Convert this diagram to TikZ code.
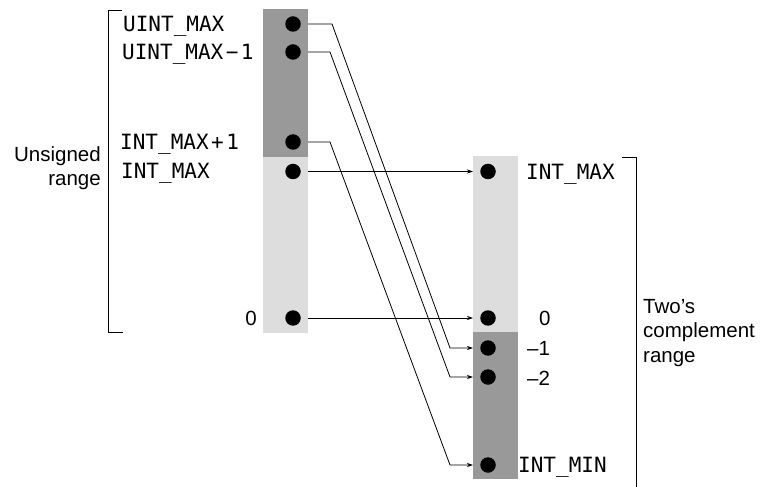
\documentclass[tikz,border=0pt]{standalone}
\usepackage{fontspec}
\setmainfont{Liberation Sans}
\newfontfamily\monof{DejaVu Sans Mono}
\usetikzlibrary{arrows.meta,calc}
\definecolor{darkbar}{HTML}{999999}
\definecolor{lightbar}{HTML}{DDDDDD}
\tikzset{
  dot/.style={circle,fill=black,inner sep=0pt,minimum size=15.5bp},
  conn/.style={line width=0.8bp,-{Stealth[length=6bp,width=4bp]}},
  bracket/.style={line width=0.9bp},
  mlabel/.style={font=\monof\fontsize{21bp}{24bp}\selectfont,inner sep=0pt,anchor=base west},
  slabel/.style={font=\fontsize{20.5bp}{24.5bp}\selectfont,inner sep=0pt},
}
\begin{document}
\begin{tikzpicture}[x=1bp,y=-1bp]
\useasboundingbox (0,0) rectangle (765,487);
% bars
\fill[darkbar] (263,9) rectangle (308,157);
\fill[lightbar] (263,157) rectangle (308,333);
\fill[lightbar] (473,156) rectangle (518,332);
\fill[darkbar] (473,332) rectangle (518,479);
\coordinate (lbarE) at (308,0);
\coordinate (rbarW) at (473,0);
% left dots
\node[dot] (u1) at (293,24) {};
\node[dot] (u2) at (293,52) {};
\node[dot] (u3) at (293,142) {};
\node[dot] (u4) at (293,171.5) {};
\node[dot] (u5) at (293,318) {};
% right dots
\node[dot] (s1) at (488,171.5) {};
\node[dot] (s2) at (488,318) {};
\node[dot] (s3) at (488,348) {};
\node[dot] (s4) at (488,377) {};
\node[dot] (s5) at (488,465) {};
% left labels
\node[mlabel] (lu1) at (123,31.5) {UINT\_MAX};
\node[mlabel] (lu2) at (122,59.5) {UINT\_MAX\kern2.5bp−\kern2.5bp1};
\node[mlabel] (lu3) at (120,149.5) {INT\_MAX\kern2.5bp+\kern2.5bp1};
\node[mlabel] (lu4) at (121,178.5) {INT\_MAX};
\node[slabel,anchor=base east] (lu5) at (257,325) {0};
% right labels
\node[mlabel] (ls1) at (526,179.5) {INT\_MAX};
\node[slabel,anchor=base west] (ls2) at (539,325) {0};
\node[slabel,anchor=base west] (ls3) at (527,355) {–1};
\node[slabel,anchor=base west] (ls4) at (527,385) {–2};
\node[mlabel] (ls5) at (518,472.5) {INT\_MIN};
% range labels
\node[slabel,anchor=base east,align=right] (ur) at (101,186) {Unsigned\\range};
\node[slabel,anchor=base west,align=left] (tr) at (643,362) {Two’s\\complement\\range};
% brackets
\draw[bracket] (122,10) -- (108,10) -- (108,332) -- (123,332);
\draw[bracket] (622,157) -- (636,157) -- (636,487);
% connectors
\draw[conn] (u4 -| lbarE) -- (s1 -| rbarW);
\draw[conn] (u5 -| lbarE) -- (s2 -| rbarW);
\draw[conn] (u1 -| lbarE) -- ++(24,0) -- ($(s3 -| rbarW)+(-23,0)$) -- (s3 -| rbarW);
\draw[conn] (u2 -| lbarE) -- ++(22,0) -- ($(s4 -| rbarW)+(-23,0)$) -- (s4 -| rbarW);
\draw[conn] (u3 -| lbarE) -- ++(22,0) -- ($(s5 -| rbarW)+(-23,0)$) -- (s5 -| rbarW);
\end{tikzpicture}
\end{document}
